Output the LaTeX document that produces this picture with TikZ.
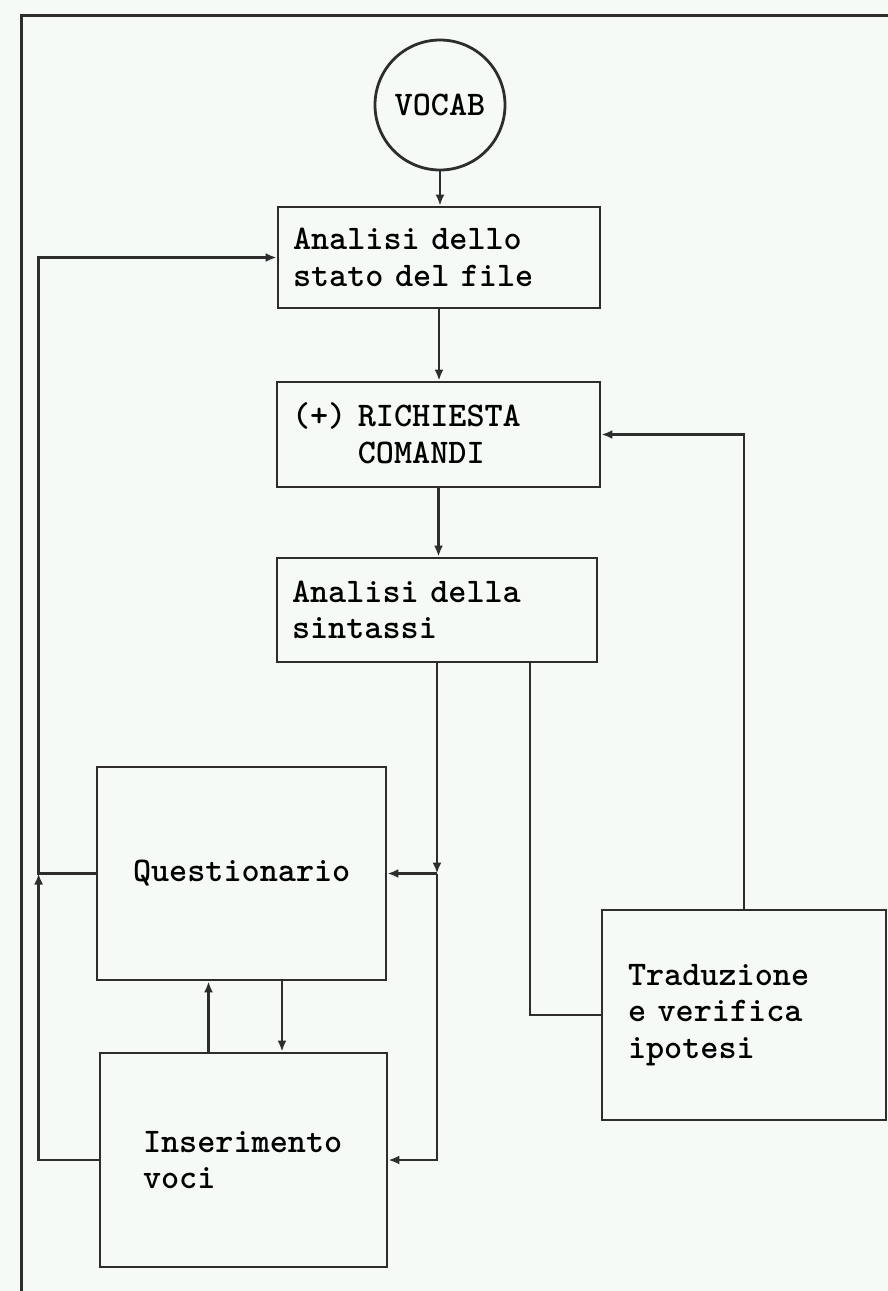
\documentclass[tikz,border=0pt]{standalone}
\usepackage{fontspec}
\usetikzlibrary{arrows.meta}
\definecolor{carta}{RGB}{246,250,246}
\definecolor{inchiostro}{RGB}{45,45,45}
\newcommand{\macchina}{\ttfamily\bfseries\fontsize{34.5}{36.5}\selectfont}

\begin{document}
\begin{tikzpicture}[
    x=1pt, y=-1pt,
    >={Latex[length=11pt, width=9pt]},
    blocco/.style={
        rectangle,
        draw=inchiostro,
        line width=2.8pt,
        align=left,
        inner ysep=0pt,
        font=\macchina
    },
    cerchio/.style={
        circle,
        draw=inchiostro,
        line width=2.8pt,
        minimum size=130pt,
        inner sep=0pt,
        font=\macchina
    },
    freccia/.style={
        ->,
        draw=inchiostro,
        line width=2.6pt
    },
    linea/.style={
        draw=inchiostro,
        line width=2.6pt
    }
]

% Sfondo e cornice
\useasboundingbox (0,0) rectangle (888,1291);
\fill[carta] (0,0) rectangle (888,1291);
\draw[linea, line width=3pt] (888,15) -- (21,15) -- (21,1291);

% Colonna principale
\node[cerchio] (vocab) at (440,105) {VOCAB};

\node[blocco, text width=292pt, inner xsep=15pt, minimum height=101pt] (analisi) at (439,257.5) {%
    Analisi dello\\stato del file};

\node[blocco, text width=293pt, inner xsep=15pt, minimum height=105pt] (richiesta) at (438.5,434.5) {%
    (+) RICHIESTA\\\phantom{(+) }COMANDI};

\node[blocco, text width=290pt, inner xsep=15pt, minimum height=104pt] (sintassi) at (437,610) {%
    Analisi della\\sintassi};

% Blocchi in basso
\node[blocco, text width=217pt, inner xsep=36pt, minimum height=213pt] (questionario) at (241.5,873.5) {%
    Questionario};

\node[blocco, text width=201pt, inner xsep=43pt, minimum height=214pt] (inserimento) at (243.5,1160) {%
    Inserimento\\voci};

\node[blocco, text width=232pt, inner xsep=26pt, minimum height=210pt] (traduzione) at (744,1015) {%
    Traduzione\\e verifica\\ipotesi};

% Punti di raccordo
\coordinate (sinistra) at ([xshift=-57pt]questionario.west);
\coordinate (destra) at (sintassi.south |- questionario.east);

% Frecce della colonna
\draw[freccia] (vocab.south) -- (vocab.south |- analisi.north);
\draw[freccia] (analisi.south) -- (analisi.south |- richiesta.north);
\draw[freccia] (richiesta.south) -- (richiesta.south |- sintassi.north);

% Ritorno a sinistra
\draw[freccia] (inserimento.west) -| (sinistra);
\draw[freccia] (questionario.west) -- (sinistra) |- (analisi.west);

% Discesa a destra
\draw[freccia] (sintassi.south) -- (destra);
\draw[freccia] (destra) -- (questionario.east);
\draw[freccia] (destra) |- (inserimento.east);

% Tra questionario e inserimento
\draw[freccia] ([xshift=-35pt]inserimento.north) -- ([xshift=-35pt]inserimento.north |- questionario.south);
\draw[freccia] ([xshift=40.5pt]questionario.south) -- ([xshift=40.5pt]questionario.south |- inserimento.north);

% Ramo verso la traduzione e ritorno
\draw[linea] ([xshift=93pt]sintassi.south) |- (traduzione.west);
\draw[freccia] (traduzione.north) |- (richiesta.east);

\end{tikzpicture}
\end{document}
